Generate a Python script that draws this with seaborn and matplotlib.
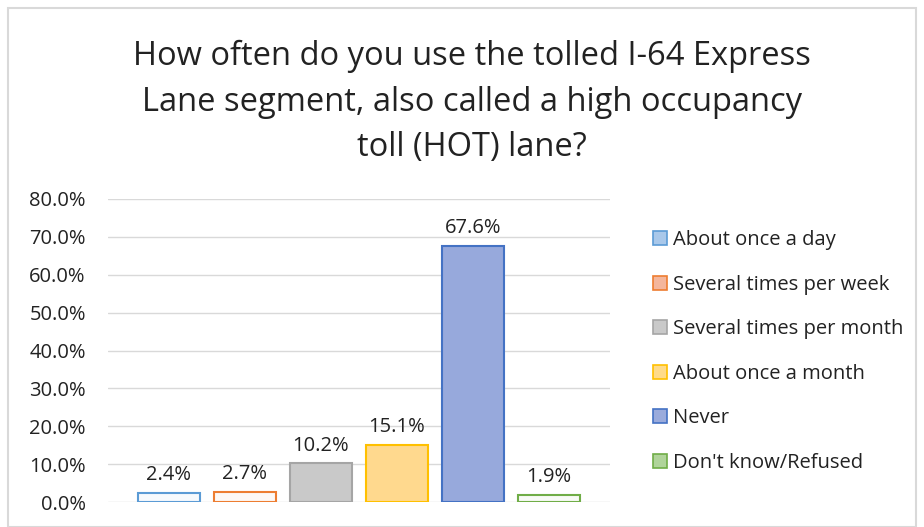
import matplotlib
matplotlib.use("Agg")
import matplotlib.pyplot as plt
import matplotlib.patches as mpatches
import seaborn as sns
import pandas as pd

categories = ["About once a day", "Several times per week", "Several times per month",
              "About once a month", "Never", "Don't know/Refused"]
values = [2.4, 2.7, 10.2, 15.1, 67.6, 1.9]
yticks = [0, 10, 20, 30, 40, 50, 60, 70, 80]

edge_colors = ["#5b9bd5", "#ed7d31", "#a5a5a5", "#ffc000", "#4472c4", "#70ad47"]
bar_fills = ["#f7fafd", "#fdf8f5", "#c9c9c9", "#ffd98e", "#97a9dc", "#f8fbf6"]
legend_fills = ["#a9c8ea", "#f4b69c", "#c9c9c9", "#ffdb8a", "#9aabdc", "#b0d49a"]

sns.set_theme(style="white")
plt.rcParams["font.family"] = ["Open Sans", "DejaVu Sans"]

df = pd.DataFrame({"cat": categories, "val": values})

fig = plt.figure(figsize=(9.24, 5.27), dpi=100)
ax = fig.add_axes([108 / 924, 25 / 527, 502 / 924, 303 / 527])

sns.barplot(data=df, x="cat", y="val", hue="cat", palette=bar_fills,
            width=0.816, legend=False, ax=ax, saturation=1)
for p, ec in zip(ax.patches, edge_colors):
    p.set_edgecolor(ec)
    p.set_linewidth(1.5)

for i, v in enumerate(values):
    ax.text(i, v + 2.0, f"{v:.1f}%", ha="center", va="bottom", fontsize=14.5, color="#222222")

ax.set_xlim(-0.8, 5.8)
ax.set_ylim(0, 80)
ax.set_yticks(yticks)
ax.set_yticklabels([f"{t:.1f}%" for t in yticks], fontsize=14.5, color="#222222")
ax.set_xticks([])
ax.set_xlabel("")
ax.set_ylabel("")
ax.tick_params(axis="y", length=0, pad=16)
ax.grid(axis="y", color="#d9d9d9", linewidth=1)
ax.set_axisbelow(True)
for s in ax.spines.values():
    s.set_visible(False)

handles = [mpatches.Patch(facecolor=f, edgecolor=e, linewidth=1.2, label=c)
           for f, e, c in zip(legend_fills, edge_colors, categories)]
fig.legend(handles=handles, loc="upper left", bbox_to_anchor=(643 / 924, 1 - 220 / 527),
           frameon=False, fontsize=14.5, handlelength=0.7, handleheight=0.7,
           handletextpad=0.3, labelspacing=1.22, borderpad=0, labelcolor="#222222")

fig.text(472 / 924, 1 - 102 / 527,
         "How often do you use the tolled I-64 Express\nLane segment, also called a high occupancy\ntoll (HOT) lane?",
         ha="center", va="center", fontsize=23.5, color="#222222", linespacing=1.5)

fig.patches.append(mpatches.Rectangle((8 / 924, 0), 1 - 16 / 924, 1 - 8 / 527, transform=fig.transFigure,
                                      fill=False, edgecolor="#d9d9d9", linewidth=1.5))

fig.savefig("out.png", dpi=100)
